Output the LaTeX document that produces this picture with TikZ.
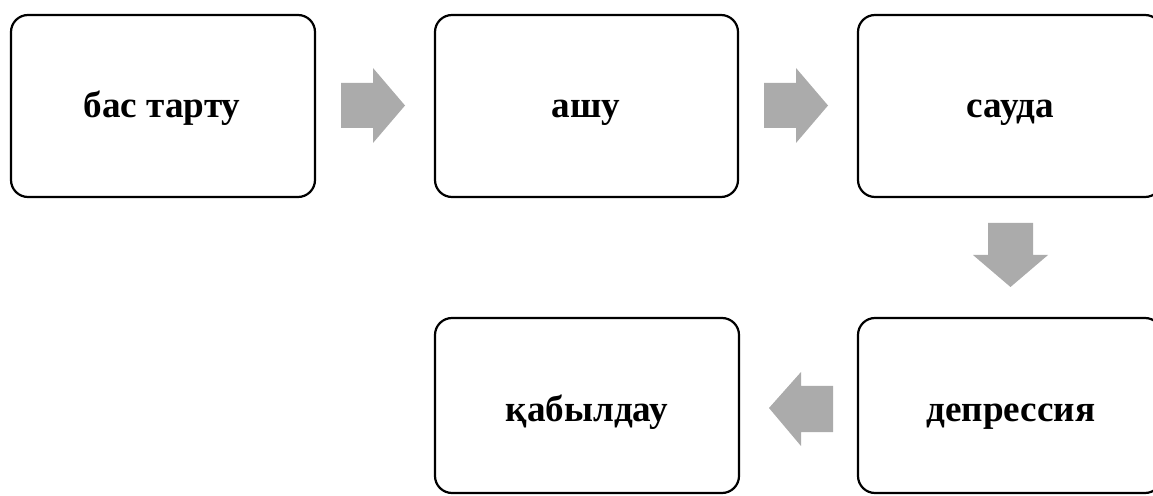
\documentclass[tikz,border=0pt]{standalone}
\usepackage{fontspec}
\setmainfont{Liberation Serif}
\begin{document}
\begin{tikzpicture}[x=1bp,y=-1bp,
  stage/.style={draw=black,line width=2.2bp,rounded corners=17bp,fill=white},
  lbl/.style={font=\fontsize{37.3}{42}\selectfont\bfseries,anchor=base,inner sep=0pt},
  blockarrow/.style={fill=black!33,draw=none}]
\useasboundingbox (0,0) rectangle (1153,496);
\begin{scope}
\clip (0,0) rectangle (1153,496);
\draw[stage] (11,15) rectangle (315,197);
\draw[stage] (435,15) rectangle (738,197);
\draw[stage] (858,15) rectangle (1162,197);
\draw[stage] (435,318) rectangle (739,493);
\draw[stage] (858,318) rectangle (1162,493);
\end{scope}
\node[lbl] (b1) at (162,118) {бас тарту};
\node[lbl] (b2) at (586,118) {ашу};
\node[lbl] (b3) at (1010,118) {сауда};
\node[lbl] (b4) at (587,421) {қабылдау};
\node[lbl] (b5) at (1011,421) {депрессия};
% right arrows
\fill[blockarrow] (341,83) -- (373,83) -- (373,68) -- (405,105.5) -- (373,143) -- (373,128) -- (341,128) -- cycle;
\fill[blockarrow] (764,83) -- (796,83) -- (796,68) -- (828,105.5) -- (796,143) -- (796,128) -- (764,128) -- cycle;
% down arrow
\fill[blockarrow] (988,223) -- (1033,223) -- (1033,255) -- (1048,255) -- (1010.5,287) -- (973,255) -- (988,255) -- cycle;
% left arrow
\fill[blockarrow] (833,386) -- (833,432) -- (801,432) -- (801,446) -- (769,408) -- (801,372) -- (801,386) -- cycle;
\end{tikzpicture}
\end{document}
